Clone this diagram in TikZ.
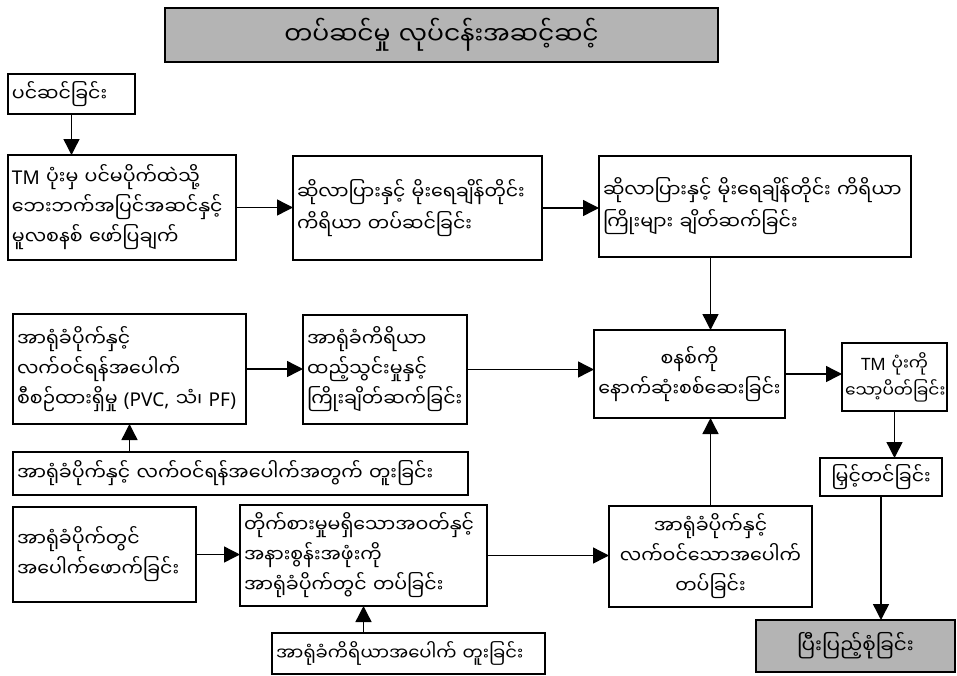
\documentclass[tikz,border=0pt]{standalone}
\usepackage{fontspec}
\setmainfont{Noto Sans}
\newfontfamily\myan[Script=Myanmar]{Noto Sans Myanmar UI}
\newcommand{\lat}[1]{{\normalfont #1}}
\usetikzlibrary{arrows.meta}

\definecolor{box_grey}{RGB}{180,180,180}
\tikzset{step_box/.style={draw=black, line width=1.3pt, inner sep=4pt, outer sep=0pt, rectangle, align=left, font=\myan\fontsize{19}{30}\selectfont}}
\tikzset{mid_box/.style={step_box, align=center}}
\tikzset{grey_box/.style={mid_box, fill=box_grey, line width=2pt}}
\tikzset{flow_arrow/.style={line width=1.4pt, -{Triangle[length=16pt,width=16pt]}}}

\begin{document}
\begin{tikzpicture}[x=1pt,y=-1pt]
    \useasboundingbox (0,0) rectangle (957,675);
    % title
    \node[grey_box, minimum width=553pt, minimum height=54pt, text width=545pt, font=\myan\fontsize{25}{30}\selectfont] (title) at (441.5,35) {တပ်ဆင်မှု လုပ်ငန်းအဆင့်ဆင့်};
    % first row
    \node[step_box, minimum width=127pt, minimum height=40pt, text width=119pt] (prep) at (71.5,94) {ပင်ဆင်ခြင်း};
    \node[step_box, minimum width=228pt, minimum height=105pt, text width=220pt] (tm_box) at (122,207.5) {\lat{TM} ပုံးမှ ပင်မပိုက်ထဲသို့\\\mbox{ဘေးဘက်အပြင်အဆင်နှင့်}\\မူလစနစ် ဖော်ပြချက်};
    \node[step_box, minimum width=249pt, minimum height=104pt, text width=241pt, font=\myan\fontsize{19}{32}\selectfont] (solar) at (417.5,208) {\mbox{ဆိုလာပြားနှင့် မိုးရေချိန်တိုင်း}\\ကိရိယာ တပ်ဆင်ခြင်း};
    \node[step_box, minimum width=312pt, minimum height=101pt, text width=304pt, font=\myan\fontsize{19}{32}\selectfont] (wiring) at (755,206.5) {\mbox{ဆိုလာပြားနှင့် မိုးရေချိန်တိုင်း ကိရိယာ}\\ကြိုးများ ချိတ်ဆက်ခြင်း};
    % second row
    \node[step_box, minimum width=233pt, minimum height=110pt, text width=225pt] (pipe) at (129.5,369) {အာရုံခံပိုက်နှင့်\\လက်ဝင်ရန်အပေါက်\\\mbox{စီစဉ်ထားရှိမှု \lat{(PVC,} သံ၊ \lat{PF)}}};
    \node[step_box, minimum width=164pt, minimum height=109pt, text width=156pt] (sensor) at (385,369.5) {အာရုံခံကိရိယာ\\ထည့်သွင်းမှုနှင့်\\\mbox{ကြိုးချိတ်ဆက်ခြင်း}};
    \node[mid_box, minimum width=191pt, minimum height=88pt, text width=183pt] (check) at (689.5,374) {စနစ်ကို\\\mbox{နောက်ဆုံးစစ်ဆေးခြင်း}};
    \node[mid_box, minimum width=105pt, minimum height=68pt, text width=99pt, inner sep=3pt, font=\myan\fontsize{17}{27}\selectfont] (lock) at (894.5,377) {\lat{TM} ပုံးကို\\\mbox{သော့ပိတ်ခြင်း}};
    \node[step_box, minimum width=455pt, minimum height=43pt, text width=447pt] (drill) at (240.5,473.5) {\mbox{အာရုံခံပိုက်နှင့် လက်ဝင်ရန်အပေါက်အတွက် တူးခြင်း}};
    \node[mid_box, minimum width=122pt, minimum height=38pt, text width=114pt] (raise) at (881,477) {\mbox{မြှင့်တင်ခြင်း}};
    % third row
    \node[step_box, minimum width=183pt, minimum height=95pt, text width=175pt] (hole) at (104.5,554.5) {အာရုံခံပိုက်တွင်\\\mbox{အပေါက်ဖောက်ခြင်း}};
    \node[step_box, minimum width=247pt, minimum height=101pt, text width=239pt] (cloth) at (363.5,555.5) {\mbox{တိုက်စားမှုမရှိသောအဝတ်နှင့်}\\အနားစွန်းအဖုံးကို\\\mbox{အာရုံခံပိုက်တွင် တပ်ခြင်း}};
    \node[mid_box, minimum width=203pt, minimum height=101pt, text width=195pt] (fit) at (710.5,556.5) {အာရုံခံပိုက်နှင့်\\\mbox{လက်ဝင်သောအပေါက်}\\တပ်ခြင်း};
    \node[step_box, minimum width=273pt, minimum height=41pt, text width=265pt, font=\myan\fontsize{18}{28}\selectfont] (sdrill) at (408.5,653.5) {\mbox{အာရုံခံကိရိယာအပေါက် တူးခြင်း}};
    \node[grey_box, minimum width=199pt, minimum height=52pt, text width=191pt, font=\myan\fontsize{20}{28}\selectfont] (finish) at (855.5,646) {ပြီးပြည့်စုံခြင်း};
    % arrows
    \draw[flow_arrow] (prep.south) -- (prep.south |- tm_box.north);
    \draw[flow_arrow] (tm_box.east) -- (tm_box.east -| solar.west);
    \draw[flow_arrow] (solar.east) -- (solar.east -| wiring.west);
    \draw[flow_arrow] (wiring.south -| fit.north) -- (check.north -| fit.north);
    \draw[flow_arrow] (pipe.east) -- (pipe.east -| sensor.west);
    \draw[flow_arrow] (sensor.east) -- (sensor.east -| check.west);
    \draw[flow_arrow] (check.east) -- (check.east -| lock.west);
    \draw[flow_arrow] (lock.south) -- (lock.south |- raise.north);
    \draw[flow_arrow] (raise.south) -- (raise.south |- finish.north);
    \draw[flow_arrow] (pipe.south |- drill.north) -- (pipe.south);
    \draw[flow_arrow] (hole.east) -- (hole.east -| cloth.west);
    \draw[flow_arrow] (cloth.east) -- (cloth.east -| fit.west);
    \draw[flow_arrow] (sdrill.north -| cloth.south) -- (cloth.south);
    \draw[flow_arrow] (fit.north) -- (fit.north |- check.south);
\end{tikzpicture}
\end{document}
